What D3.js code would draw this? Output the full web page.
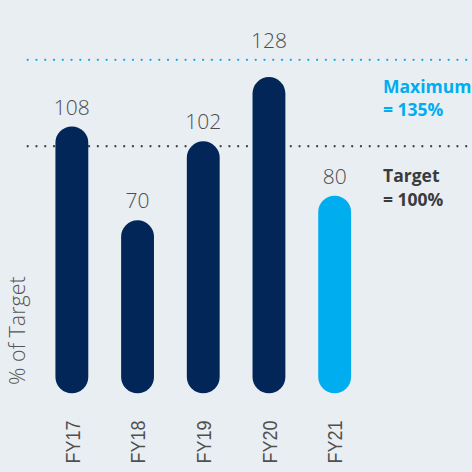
<!DOCTYPE html>
<html>
<head>
<meta charset="utf-8">
<script src="https://cdn.jsdelivr.net/npm/d3@7"></script>
<style>
  html, body { margin: 0; padding: 0; background: #e9eef3; }
  svg { display: block; }
</style>
</head>
<body>
<script>
// Performance vs target, by fiscal year (% of target)
const categories = ["FY17", "FY18", "FY19", "FY20", "FY21"];
const values = [108, 70, 102, 128, 80];
const highlight = [false, false, false, false, true];

// Reference levels
const refValues = [135, 100];
const refNames = ["Maximum", "Target"];
const refTexts = ["= 135%", "= 100%"];

const W = 472, H = 472;
const navy = "#022657", cyan = "#00adef";
const refColors = [cyan, "#444444"];
const captionColors = [cyan, "#3b3b3b"];

const svg = d3.select("body").append("svg")
  .attr("width", W).attr("height", H);

svg.append("rect").attr("width", W).attr("height", H).attr("fill", "#e9eef3");

const x = d3.scaleBand()
  .domain(categories)
  .range([39, 367.5])
  .paddingInner(0.5)
  .paddingOuter(0.25);

const y = d3.scaleLinear()
  .domain([0, 135])
  .range([393.3, 59.8]);

// Dotted reference lines
svg.selectAll("line.ref")
  .data(refValues)
  .join("line")
  .attr("class", "ref")
  .attr("x1", 27.7).attr("x2", W + 4)
  .attr("y1", d => y(d)).attr("y2", d => y(d))
  .attr("stroke", (d, i) => refColors[i])
  .attr("stroke-width", 2.3)
  .attr("stroke-linecap", "round")
  .attr("stroke-dasharray", "0 8.77");

// Reference captions, to the right of the bars
refValues.forEach((v, i) => {
  const t = svg.append("text")
    .attr("x", 383)
    .attr("y", y(v) + (i === 0 ? 33 : 36))
    .attr("fill", captionColors[i])
    .style("font-family", "'Open Sans', sans-serif")
    .style("font-weight", 700)
    .style("font-size", "17.5px");
  t.append("tspan").attr("x", 383).text(refNames[i]);
  t.append("tspan").attr("x", 383).attr("dy", 23.3).text(refTexts[i]);
});

// Pill-shaped bars
const bw = x.bandwidth();
svg.selectAll("rect.bar")
  .data(values)
  .join("rect")
  .attr("class", "bar")
  .attr("x", (d, i) => x(categories[i]))
  .attr("width", bw)
  .attr("y", d => y(d))
  .attr("height", d => y(0) - y(d))
  .attr("rx", bw / 2).attr("ry", bw / 2)
  .attr("fill", (d, i) => highlight[i] ? cyan : navy);

// Value labels; a label that would cross the maximum line sits above it
const maxY = y(refValues[0]);
svg.selectAll("text.val")
  .data(values)
  .join("text")
  .attr("class", "val")
  .attr("x", (d, i) => x(categories[i]) + bw / 2)
  .attr("y", d => (y(d) - 12 - 16 < maxY) ? maxY - 11.5 : y(d) - 12)
  .attr("text-anchor", "middle")
  .attr("fill", "#4d4d4d")
  .style("font-family", "'Open Sans', sans-serif")
  .style("font-weight", 300)
  .style("font-size", "21px")
  .text(d => d);

// Rotated category labels
svg.selectAll("text.cat")
  .data(categories)
  .join("text")
  .attr("class", "cat")
  .attr("transform", d => `translate(${x(d) + bw / 2 + 7.8},463.5) rotate(-90)`)
  .attr("text-anchor", "start")
  .attr("fill", "#505050")
  .attr("textLength", 43)
  .attr("lengthAdjust", "spacingAndGlyphs")
  .style("font-family", "'Liberation Sans', Arial, sans-serif")
  .style("font-size", "21px")
  .text(d => d);

// Axis title
svg.append("text")
  .attr("transform", "translate(24.5,385) rotate(-90)")
  .attr("text-anchor", "start")
  .attr("fill", "#555555")
  .style("font-family", "'Open Sans', sans-serif")
  .style("font-weight", 300)
  .style("font-size", "21.5px")
  .text("% of Target");
</script>
</body>
</html>
